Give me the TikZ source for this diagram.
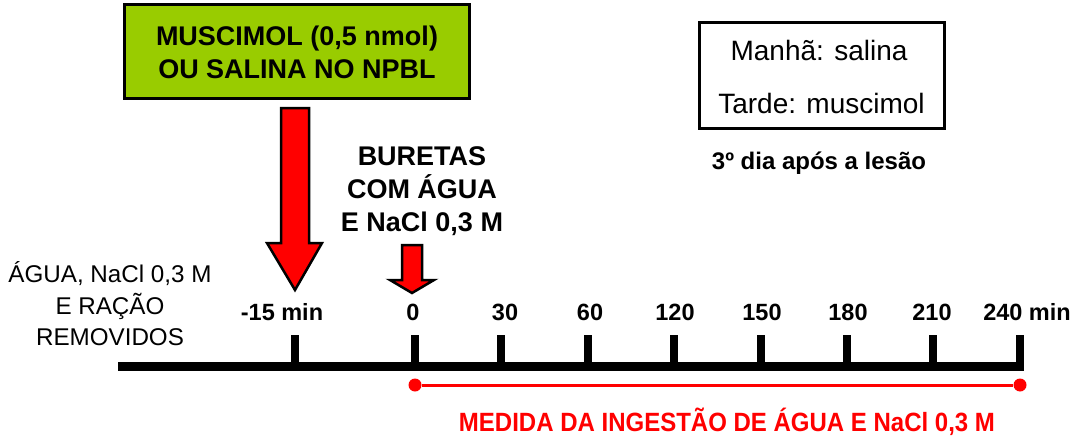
\documentclass[tikz,border=0pt]{standalone}
\usepackage{fontspec}
\setmainfont{Liberation Sans}
\definecolor{lime}{HTML}{99CC00}
\definecolor{redarrow}{HTML}{FF0000}
\begin{document}
\begin{tikzpicture}[x=1pt,y=-1pt,
  boldlbl/.style={font=\fontsize{27}{33}\selectfont\bfseries, align=center, inner sep=0pt},
  ticklbl/.style={font=\fontsize{23.5}{27}\selectfont\bfseries, inner sep=0pt},
  plainlbl/.style={font=\fontsize{24.2}{31.5}\selectfont, align=center, inner sep=0pt},
  boxlbl/.style={font=\fontsize{28}{34}\selectfont, inner sep=0pt},
  tickmark/.style={line width=8pt},
  bigarrow/.style={fill=redarrow, draw=black, line width=2.5pt, line join=miter},
  redline/.style={draw=redarrow, line width=3pt},
  dot/.style={circle, fill=redarrow, inner sep=0pt, minimum size=13pt}]
\useasboundingbox (0,0) rectangle (1073,436);
% green box
\node[draw=black, line width=2.5pt, fill=lime, minimum width=345pt, minimum height=94pt, inner sep=0pt] (musc) at (297,51.5) {};
\node[boldlbl] (musct) at (297,52) {MUSCIMOL (0,5 nmol)\\OU SALINA NO NPBL};
% right box
\node[draw=black, line width=3pt, minimum width=245pt, minimum height=105pt, inner sep=0pt] (mt) at (821.5,75.5) {};
\node[boxlbl] (manha) at (819,50) {Manhã: salina};
\node[boxlbl] (tarde) at (821.5,103) {Tarde: muscimol};
\node[font=\fontsize{24}{28}\selectfont\bfseries, inner sep=0pt] (dia) at (819,163) {3º dia após a lesão};
% big arrow
\path[bigarrow] (281,108) -- (309,108) -- (309,243) -- (322,243) -- (295,290) -- (267,243) -- (281,243) -- cycle;
% small arrow
\path[bigarrow] (402,245) -- (422,245) -- (422,280) -- (434,280) -- (412,293) -- (390,280) -- (402,280) -- cycle;
% buretas
\node[boldlbl] (bur) at (422,191) {BURETAS\\COM ÁGUA\\E NaCl 0,3 M};
% left text
\node[plainlbl] (agua) at (110,304) {ÁGUA, NaCl 0,3 M\\E RAÇÃO\\REMOVIDOS};
% timeline
\coordinate (t0) at (118,366);
\coordinate (t1) at (1024,366);
\draw[line width=9pt] (t0) -- (t1);
\foreach \x in {295,415,501,588,674,761,847,933,1020}{
  \draw[tickmark] (\x,335) -- (\x,367);
}
\node[ticklbl] (lm15) at (282,312) {-15 min};
\node[ticklbl] (l0) at (413,312) {0};
\node[ticklbl] (l30) at (505,312) {30};
\node[ticklbl] (l60) at (590,312) {60};
\node[ticklbl] (l120) at (675,312) {120};
\node[ticklbl] (l150) at (762,312) {150};
\node[ticklbl] (l180) at (848,312) {180};
\node[ticklbl] (l210) at (932,312) {210};
\node[ticklbl] (l240) at (1027,312) {240 min};
% red measure line
\node[dot] (ds) at (415,385) {};
\node[dot] (de) at (1020,385) {};
\draw[redline] (ds) -- (de);
\node[font=\fontsize{24}{28}\selectfont\bfseries, text=redarrow, inner sep=0pt, yscale=1.1] (med) at (727,422) {MEDIDA DA INGESTÃO DE ÁGUA E NaCl 0,3 M};
\end{tikzpicture}
\end{document}
